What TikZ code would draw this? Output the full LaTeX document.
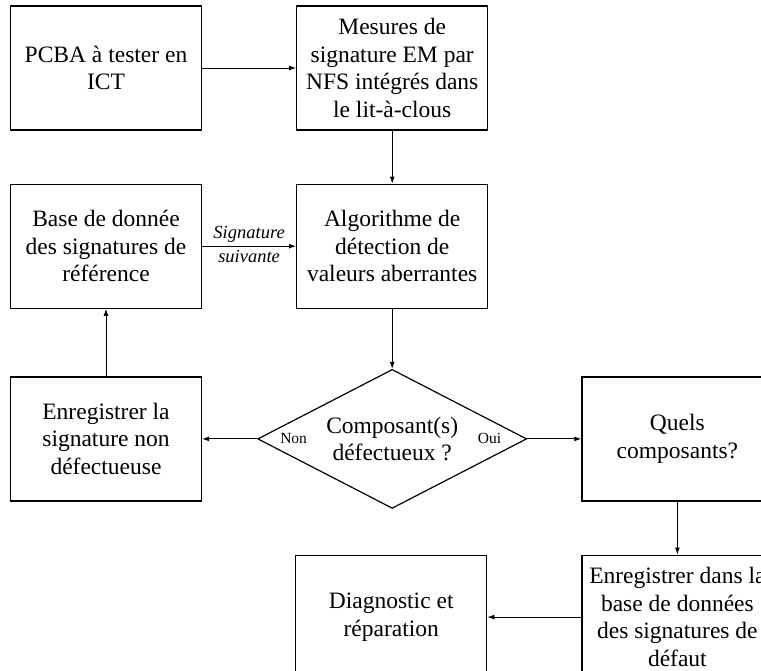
\documentclass[tikz,border=0pt]{standalone}
\usepackage{fontspec}
\setmainfont{Liberation Serif}
\usetikzlibrary{arrows.meta,positioning,shapes.geometric}

\begin{document}
\begin{tikzpicture}[x=1pt,y=1pt,
  node distance=53pt and 94pt,
  bloc/.style={draw,line width=1.2pt,align=center,inner sep=2pt,
    minimum width=191pt,minimum height=124pt,
    font=\fontsize{23.5}{27.5}\selectfont},
  losange/.style={draw,diamond,line width=1.2pt,align=center,inner sep=0pt,
    aspect=1.94,minimum width=269pt,minimum height=139pt,
    font=\fontsize{23.5}{27.5}\selectfont},
  lbl/.style={font=\fontsize{15.5}{18}\selectfont,inner sep=1pt},
  sig/.style={font=\fontsize{18.5}{21}\selectfont\itshape,inner sep=3.5pt},
  ar/.style={-{Latex[length=7pt,width=5pt]},line width=1pt}
]
\useasboundingbox (0,0) rectangle (761,-670);
\node[bloc] (pcba) at (106,-68) {PCBA à tester en\\ICT};
\node[bloc,right=of pcba] (mes) {Mesures de\\signature EM par\\NFS intégrés dans\\le lit-à-clous};
\node[bloc,below=of mes] (algo) {Algorithme de\\détection de\\valeurs aberrantes};
\node[bloc,left=of algo] (base) {Base de donnée\\des signatures de\\référence};
\node[losange,below=60pt of algo] (dec) {Composant(s)\\défectueux ?};
\node[bloc,left=55pt of dec] (enr) {Enregistrer la\\signature non\\défectueuse};
\node[bloc,right=54pt of dec] (quels) {Quels\\composants?};
\node[bloc,below=of quels] (enrdef) {Enregistrer dans la\\base de données\\des signatures de\\défaut};
\node[bloc,left=of enrdef] (diag) {Diagnostic et\\réparation};
\node[lbl,anchor=west] (non) at ([xshift=22pt]dec.west) {Non};
\node[lbl,anchor=east] (oui) at ([xshift=-25pt]dec.east) {Oui};
\draw[ar] (pcba) -- (mes);
\draw[ar] (mes) -- (algo);
\draw[ar] (base) -- (algo)
  node[midway,above,sig] {Signature}
  node[midway,below,sig] {suivante};
\draw[ar] (algo) -- (dec);
\draw[ar] (dec) -- (enr);
\draw[ar] (enr) -- (base);
\draw[ar] (dec) -- (quels);
\draw[ar] (quels) -- (enrdef);
\draw[ar] (enrdef) -- (diag);
\end{tikzpicture}
\end{document}
